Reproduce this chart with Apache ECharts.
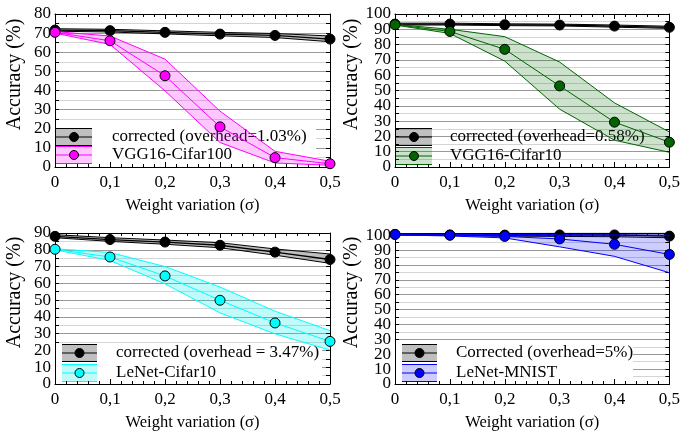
<!DOCTYPE html>
<html><head><meta charset="utf-8">
<script src="https://cdn.jsdelivr.net/npm/echarts@6/dist/echarts.min.js"></script>
<style>html,body{margin:0;padding:0;background:#fff}#c{width:683px;height:432px}</style>
</head><body><div id="c"></div>
<script>
// ---- data ----
const sigma = [0, 0.1, 0.2, 0.3, 0.4, 0.5];

// Panel 1: VGG16-Cifar100
const p1CorrMean = [71.6, 71.3, 70.4, 69.5, 68.8, 66.9];
const p1CorrHi   = [72.3, 72.0, 71.2, 70.4, 69.8, 68.5];
const p1CorrLo   = [71.0, 70.6, 69.6, 68.6, 67.7, 65.5];
const p1Mean = [70.4, 66.0, 47.7, 21.0, 4.9, 1.7];
const p1Hi   = [70.8, 68.5, 56.4, 29.2, 8.2, 3.0];
const p1Lo   = [70.0, 64.1, 39.8, 12.8, 2.1, 0.9];

// Panel 2: VGG16-Cifar10
const p2CorrMean = [93.4, 93.4, 93.0, 92.8, 92.1, 91.3];
const p2CorrHi   = [94.0, 94.0, 93.6, 93.4, 92.8, 92.0];
const p2CorrLo   = [92.8, 92.8, 92.4, 92.2, 91.4, 90.6];
const p2Mean = [93.0, 88.6, 76.9, 53.0, 29.3, 16.2];
const p2Hi   = [93.2, 90.0, 85.2, 68.6, 41.9, 22.9];
const p2Lo   = [92.8, 87.3, 69.2, 37.8, 17.5, 9.6];

// Panel 3: LeNet-Cifar10
const p3CorrMean = [88.0, 86.1, 84.6, 82.7, 78.6, 74.2];
const p3CorrHi   = [89.0, 87.2, 85.8, 84.2, 80.5, 77.5];
const p3CorrLo   = [87.2, 85.0, 83.3, 81.2, 76.8, 71.9];
const p3Mean = [80.3, 75.7, 64.4, 49.9, 36.4, 25.4];
const p3Hi   = [80.6, 78.4, 70.0, 57.8, 43.4, 31.8];
const p3Lo   = [80.0, 73.6, 59.7, 42.4, 29.9, 20.2];

// Panel 4: LeNet-MNIST
const p4CorrMean = [100.6, 100.2, 100.1, 100.2, 100.2, 99.4];
const p4CorrHi   = [101.0, 101.0, 101.2, 101.3, 101.3, 101.3];
const p4CorrLo   = [100.2, 99.8, 99.4, 99.2, 99.0, 98.3];
const p4Mean = [100.5, 100.0, 99.2, 97.5, 93.9, 87.1];
const p4Hi   = [100.8, 100.6, 100.5, 100.4, 100.2, 100.0];
const p4Lo   = [100.2, 99.5, 98.2, 92.2, 85.8, 74.8];

// axis ranges / tick labels
const yMaxes = [80, 100, 90, 101.5];
const yLabelStep = 10;
const corrNames = ['corrected (overhead=1.03%)', 'corrected (overhead=0.58%)', 'corrected (overhead = 3.47%)', 'Corrected (overhead=5%)'];
const netNames = ['VGG16-Cifar100', 'VGG16-Cifar10', 'LeNet-Cifar10', 'LeNet-MNIST'];
const xTitle = 'Weight variation (σ)';
const yTitle = 'Accuracy (%)';

// ---- styling / layout ----
const FONT = 'Liberation Serif';
const panels = [
  {left:55, top:14, width:275, height:153, corr:[p1CorrMean,p1CorrHi,p1CorrLo], net:[p1Mean,p1Hi,p1Lo],
   color:'#ff00ff', fill:'rgba(255,0,255,0.22)', lg:{sx:56, sw:36, r1:137, r2:155, tx:112, bg:[56,127,260,35]}},
  {left:395, top:14, width:275, height:153, corr:[p2CorrMean,p2CorrHi,p2CorrLo], net:[p2Mean,p2Hi,p2Lo],
   color:'#006400', fill:'rgba(0,110,0,0.2)', lg:{sx:396, sw:36, r1:137, r2:156, tx:450, bg:null}},
  {left:55, top:233, width:275, height:154, corr:[p3CorrMean,p3CorrHi,p3CorrLo], net:[p3Mean,p3Hi,p3Lo],
   color:'#00ffff', fill:'rgba(0,240,240,0.25)', lg:{sx:62, sw:35, r1:353, r2:373, tx:116, bg:[56,343,266,38]}},
  {left:395, top:233, width:275, height:154, corr:[p4CorrMean,p4CorrHi,p4CorrLo], net:[p4Mean,p4Hi,p4Lo],
   color:'#0000ff', fill:'rgba(0,0,255,0.2)', lg:{sx:402, sw:35, r1:353, r2:373, tx:456, bg:[396,343,237,38]}}
];

const grid = [], xAxis = [], yAxis = [], series = [], graphic = [];
const xFmt = v => v === 0 ? '0' : v.toFixed(1).replace('.', ',');
const yFmt = v => (Math.abs(v % yLabelStep) < 1e-9 ? String(v) : '');

function band(hi, lo, fill, ai, z) {
  return {type:'custom', xAxisIndex:ai, yAxisIndex:ai, silent:true, z:z,
    data:[[sigma[0], lo[0]]],
    renderItem:(params, api) => {
      if (params.dataIndex !== 0) return;
      const pts = [];
      for (let k = 0; k < sigma.length; k++) pts.push(api.coord([sigma[k], hi[k]]));
      for (let k = sigma.length - 1; k >= 0; k--) pts.push(api.coord([sigma[k], lo[k]]));
      return {type:'polygon', shape:{points:pts}, style:{fill:fill}};
    }};
}
function edge(vals, color, ai, z) {
  return {type:'line', xAxisIndex:ai, yAxisIndex:ai, silent:true, z:z, showSymbol:false, symbol:'none',
    data:sigma.map((s,k)=>[s, vals[k]]), lineStyle:{color:color, width:1}};
}
function meanLine(vals, color, ai, z, lw) {
  return {type:'line', xAxisIndex:ai, yAxisIndex:ai, silent:true, z:z, symbol:'circle', symbolSize:10,
    data:sigma.map((s,k)=>[s, vals[k]]), lineStyle:{color:color, width:lw},
    itemStyle:{color:color, borderColor:'#000', borderWidth:1}};
}

panels.forEach((p, i) => {
  grid.push({left:p.left, top:p.top, width:p.width, height:p.height});
  const xb = {type:'value', gridIndex:i, min:0, max:0.5, interval:0.1, z:5,
    axisLine:{show:true, onZero:false, lineStyle:{color:'#000', width:1}},
    axisTick:{show:true, inside:true, length:5, lineStyle:{color:'#000'}},
    minorTick:{show:true, splitNumber:5, length:3, lineStyle:{color:'#000'}},
    splitLine:{show:false}};
  xAxis.push(Object.assign({}, xb, {position:'bottom',
    axisLabel:{show:true, showMinLabel:true, showMaxLabel:true, hideOverlap:false, formatter:xFmt,
      fontFamily:FONT, fontSize:17, color:'#000', margin:7},
    name:xTitle, nameLocation:'middle', nameGap:30, nameTextStyle:{fontFamily:FONT, fontSize:16.5, color:'#000'}}));
  xAxis.push(Object.assign({}, xb, {position:'top', axisLabel:{show:false}}));
  const yb = {type:'value', gridIndex:i, min:0, max:yMaxes[i], interval:5,
    axisLine:{show:true, onZero:false, lineStyle:{color:'#000', width:1}},
    axisTick:{show:true, inside:true, length:4, lineStyle:{color:'#000'}}};
  yAxis.push(Object.assign({}, yb, {position:'left', z:0,
    axisLabel:{show:true, showMinLabel:true, showMaxLabel:true, hideOverlap:false, formatter:yFmt,
      fontFamily:FONT, fontSize:17, lineHeight:12, color:'#000', margin:4},
    splitLine:{show:true, lineStyle:{color:['#999999','#d4d4d4'], width:1}},
    name:yTitle, nameLocation:'middle', nameGap:30,
    nameTextStyle:{fontFamily:FONT, fontSize:20, color:'#000', padding:[0,0,0,32]}}));
  yAxis.push(Object.assign({}, yb, {position:'right', z:5, axisLabel:{show:false}, splitLine:{show:false}}));

  const ai = i * 2;
  series.push(band(p.corr[1], p.corr[2], 'rgba(0,0,0,0.25)', ai, 2));
  series.push(edge(p.corr[1], '#000', ai, 3));
  series.push(edge(p.corr[2], '#000', ai, 3));
  series.push(meanLine(p.corr[0], '#000', ai, 4, 1.3));
  series.push(band(p.net[1], p.net[2], p.fill, ai, 5));
  series.push(edge(p.net[1], p.color, ai, 6));
  series.push(edge(p.net[2], p.color, ai, 6));
  series.push(meanLine(p.net[0], p.color, ai, 7, 1));

  // legend (drawn as graphic so the band sample can be reproduced)
  const L = p.lg;
  if (L.bg) graphic.push({type:'rect', z:1, silent:true, shape:{x:L.bg[0], y:L.bg[1], width:L.bg[2], height:L.bg[3]}, style:{fill:'#fff'}});
  [[L.r1, '#000', 'rgba(0,0,0,0.25)', corrNames[i]], [L.r2, p.color, p.fill, netNames[i]]].forEach(([r, c, f, t]) => {
    const h = 8.5;
    graphic.push({type:'rect', z:1, silent:true, shape:{x:L.sx, y:r-h, width:L.sw, height:2*h}, style:{fill:f}});
    [r-h, r, r+h].forEach(yy => graphic.push({type:'line', z:1, silent:true,
      shape:{x1:L.sx, y1:yy, x2:L.sx+L.sw, y2:yy}, style:{stroke:c, lineWidth:1}}));
    graphic.push({type:'circle', z:1, silent:true, shape:{cx:L.sx+L.sw/2, cy:r, r:4.5}, style:{fill:c, stroke:'#000', lineWidth:1}});
    graphic.push({type:'text', z:1, silent:true, x:L.tx, y:r,
      style:{text:t, fontFamily:FONT, fontSize:17, fill:'#000', align:'left', verticalAlign:'middle'}});
  });
});

const chart = echarts.init(document.getElementById('c'), null, {renderer:'canvas'});
chart.setOption({animation:false, backgroundColor:'#fff', textStyle:{fontFamily:FONT},
  grid, xAxis, yAxis, series, graphic});
</script></body></html>
